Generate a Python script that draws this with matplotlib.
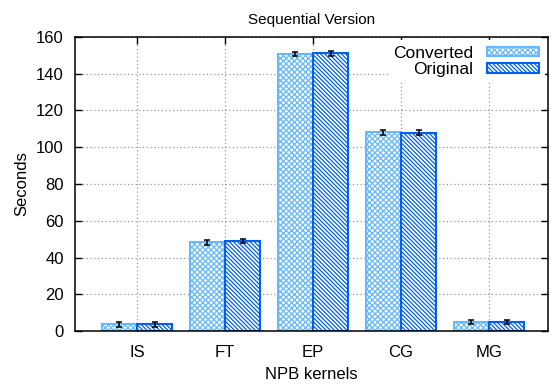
import numpy as np
import matplotlib.pyplot as plt

plt.rcParams['font.family'] = ['Liberation Sans', 'DejaVu Sans']
plt.rcParams['hatch.linewidth'] = 0.9

kernels = ["IS", "FT", "EP", "CG", "MG"]
converted = [3.6, 48.3, 150.7, 108.1, 4.9]
original = [3.6, 49.0, 151.1, 108.0, 4.9]
converted_err = [1.3, 1.3, 1.3, 1.3, 1.3]
original_err = [1.3, 1.3, 1.3, 1.3, 1.3]

x = np.arange(len(kernels))
w = 0.4

fig = plt.figure(figsize=(5.57, 3.87), dpi=100)
ax = fig.add_axes([0.1346, 0.1447, 0.9838 - 0.1346, 0.9044 - 0.1447])

light = "#66b8ff"
dark = "#0060f0"

ax.bar(x - w / 2, converted, w, color="white", edgecolor=light,
       hatch="xxxxxx", linewidth=1.5, label="Converted", zorder=2)
ax.bar(x + w / 2, original, w, color="white", edgecolor=dark,
       hatch="\\" * 8, linewidth=1.5, label="Original", zorder=2)
ax.errorbar(x - w / 2, converted, yerr=converted_err, fmt="none", ecolor="black",
            capsize=2, elinewidth=1.1, capthick=1.1, zorder=3)
ax.errorbar(x + w / 2, original, yerr=original_err, fmt="none", ecolor="black",
            capsize=2, elinewidth=1.1, capthick=1.1, zorder=3)

ax.set_xlim(-0.705, 4.67)
ax.set_ylim(0, 160)
ax.set_xticks(x)
ax.set_xticklabels(kernels)
ax.set_yticks(range(0, 161, 20))
ax.tick_params(direction="in", top=True, right=True, length=5, labelsize=12,
               width=1)
ax.tick_params(axis="x", pad=10)
ax.tick_params(axis="y", pad=8)
ax.grid(True, color="#999999", linestyle=(0, (1, 2)), linewidth=0.9, zorder=0)
ax.set_axisbelow(True)
for s in ax.spines.values():
    s.set_linewidth(1.1)

ax.set_title("Sequential Version", fontsize=11, pad=9)
ax.set_xlabel("NPB kernels", fontsize=12, labelpad=5)
ax.set_ylabel("Seconds", fontsize=12, labelpad=5)

leg = ax.legend(loc="upper right", markerfirst=False, fontsize=12.5,
                frameon=True, fancybox=False, handlelength=3.0, handleheight=0.5,
                handletextpad=0.8, labelspacing=0.1, borderaxespad=0.2,
                borderpad=0.3)
leg.get_frame().set_edgecolor("none")
leg.get_frame().set_facecolor("white")
leg.get_frame().set_alpha(1)
for t in leg.get_texts():
    t.set_ha("right")

fig.savefig("out.png", dpi=100)
